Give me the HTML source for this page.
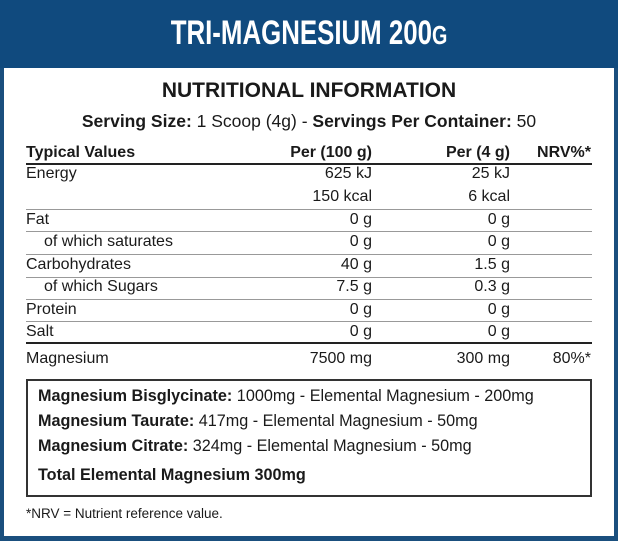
<!DOCTYPE html>
<html><head><meta charset="utf-8"><style>
*{margin:0;padding:0;box-sizing:border-box}
body{width:618px;height:541px;background:#1a4f7e;position:relative;overflow:hidden;font-family:"Liberation Sans",sans-serif;color:#1a1a1a}
#w{position:absolute;left:4px;top:0;width:610px;height:536px;background:#fff}
#hd{position:absolute;left:0;top:0;width:618px;height:68px;background:#104a7e}
.t{position:absolute;white-space:nowrap}
#title{left:0;width:618px;text-align:center;top:14px;font-weight:bold;font-size:34px;color:#fff}
#title span.in{display:inline-block;transform:scaleX(0.76)}
.c{left:0;width:618px;text-align:center}
.r{position:absolute;font-size:16px;white-space:nowrap}
.l{left:26px}.l2{left:44px}
.a{right:246px}.b{right:108px}.n{right:27px}
.hr{position:absolute;left:26px;width:566px;height:1px;background:#999}
.hk{position:absolute;left:26px;width:566px;height:2px;background:#222}
b{font-weight:bold}
</style></head><body>
<div id="w"></div>
<div id="hd"></div>
<div class="t" id="title"><span class="in">TRI-MAGNESIUM 200<span style="font-size:26px">G</span></span></div>
<div class="t c" style="top:79px;font-size:21px;font-weight:bold">NUTRITIONAL INFORMATION</div>
<div class="t c" style="top:111px;font-size:17.5px"><b>Serving Size:</b> 1 Scoop (4g) - <b>Servings Per Container:</b> 50</div>

<div class="r l" style="top:144px;font-weight:bold">Typical Values</div>
<div class="r a" style="top:144px;font-weight:bold">Per (100 g)</div>
<div class="r b" style="top:144px;font-weight:bold">Per (4 g)</div>
<div class="r n" style="top:144px;font-weight:bold">NRV%*</div>
<div class="hk" style="top:163px"></div>

<div class="r l" style="top:165px">Energy</div><div class="r a" style="top:165px">625 kJ</div><div class="r b" style="top:165px">25 kJ</div>
<div class="r a" style="top:188px">150 kcal</div><div class="r b" style="top:188px">6 kcal</div>
<div class="hr" style="top:209px"></div>
<div class="r l" style="top:211px">Fat</div><div class="r a" style="top:211px">0 g</div><div class="r b" style="top:211px">0 g</div>
<div class="hr" style="top:231px"></div>
<div class="r l2" style="top:233px">of which saturates</div><div class="r a" style="top:233px">0 g</div><div class="r b" style="top:233px">0 g</div>
<div class="hr" style="top:254px"></div>
<div class="r l" style="top:256px">Carbohydrates</div><div class="r a" style="top:256px">40 g</div><div class="r b" style="top:256px">1.5 g</div>
<div class="hr" style="top:277px"></div>
<div class="r l2" style="top:278px">of which Sugars</div><div class="r a" style="top:278px">7.5 g</div><div class="r b" style="top:278px">0.3 g</div>
<div class="hr" style="top:299px"></div>
<div class="r l" style="top:301px">Protein</div><div class="r a" style="top:301px">0 g</div><div class="r b" style="top:301px">0 g</div>
<div class="hr" style="top:321px"></div>
<div class="r l" style="top:323px">Salt</div><div class="r a" style="top:323px">0 g</div><div class="r b" style="top:323px">0 g</div>
<div class="hk" style="top:342px"></div>
<div class="r l" style="top:350px">Magnesium</div><div class="r a" style="top:350px">7500 mg</div><div class="r b" style="top:350px">300 mg</div><div class="r n" style="top:350px">80%*</div>

<div style="position:absolute;left:26px;top:379px;width:566px;height:118px;border:2px solid #333"></div>
<div class="r" style="left:38px;top:387px;font-size:16.2px"><b>Magnesium Bisglycinate:</b> 1000mg - Elemental Magnesium - 200mg</div>
<div class="r" style="left:38px;top:412px;font-size:16.2px"><b>Magnesium Taurate:</b> 417mg - Elemental Magnesium - 50mg</div>
<div class="r" style="left:38px;top:437px;font-size:16.2px"><b>Magnesium Citrate:</b> 324mg - Elemental Magnesium - 50mg</div>
<div class="r" style="left:38px;top:466px;font-size:16.2px"><b>Total Elemental Magnesium 300mg</b></div>
<div class="r" style="left:26px;top:506px;font-size:13.5px">*NRV = Nutrient reference value.</div>
</body></html>
